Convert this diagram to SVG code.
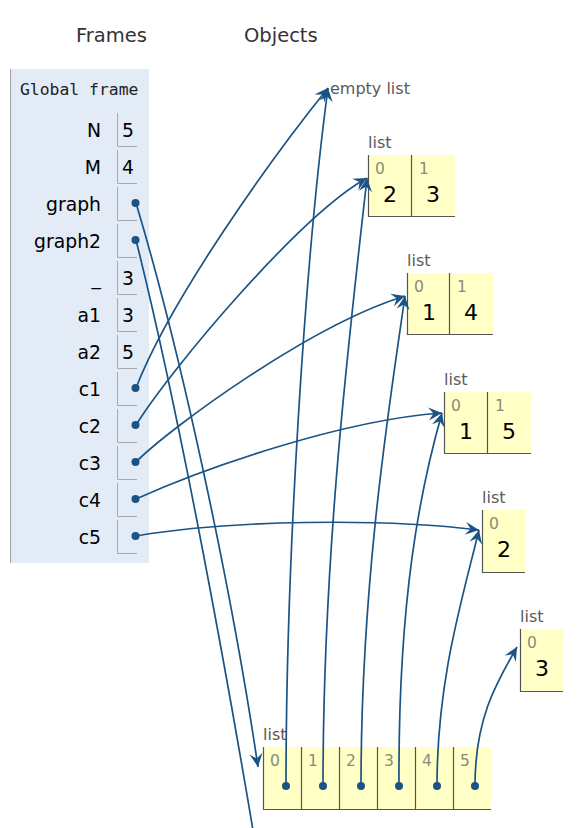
<svg xmlns="http://www.w3.org/2000/svg" width="585" height="828" viewBox="0 0 585 828">
<defs>
<style>
.hdr{font-family:"DejaVu Sans","Liberation Sans",sans-serif;font-size:19.5px;fill:#333}
.gf{font-family:"DejaVu Sans Mono","Liberation Mono",monospace;font-size:16.4px;fill:#222}
.lbl{font-family:"DejaVu Sans","Liberation Sans",sans-serif;font-size:18.8px;fill:#000;text-anchor:end}
.val{font-family:"DejaVu Sans","Liberation Sans",sans-serif;font-size:18.8px;fill:#000;text-anchor:middle}
.cb{stroke:#a8a8a8;stroke-width:1;fill:none}
.typ{font-family:"DejaVu Sans","Liberation Sans",sans-serif;font-size:16px;fill:#5a5a5a}
.idx{font-family:"DejaVu Sans","Liberation Sans",sans-serif;font-size:15.5px;fill:#8a8a80}
.hv{font-family:"DejaVu Sans","Liberation Sans",sans-serif;font-size:22px;fill:#000;text-anchor:middle}
.cell{fill:#ffffc6}
.hb{stroke:#555;stroke-width:1.2;fill:none}
.dot{fill:#1b5384}
.con path{fill:none;stroke:#1b5384;stroke-width:1.7;marker-end:url(#ah)}
</style>
<marker id="ah" viewBox="-15 -8 16 16" refX="0" refY="0" markerWidth="16" markerHeight="16" markerUnits="userSpaceOnUse" orient="auto">
<path d="M0,0 L-13.5,-6.5 L-8.5,0 L-13.5,6.5 Z" fill="#1b5384"/>
</marker>
</defs>
<rect width="585" height="828" fill="#fff"/>
<text class="hdr" x="76" y="42">Frames</text>
<text class="hdr" x="244" y="42">Objects</text>

<g id="global-frame">
<rect x="10" y="69" width="139" height="494" fill="#e2ebf6"/>
<line x1="10.5" y1="69" x2="10.5" y2="563" stroke="#a0a0a0"/>
<text class="gf" x="20" y="95">Global frame</text>
</g>
<g id="var-N"><text class="lbl" x="101" y="137">N</text><path class="cb" d="M117.5,113V146.5H137"/><text class="val" x="128" y="137">5</text></g>
<g id="var-M"><text class="lbl" x="101" y="174">M</text><path class="cb" d="M117.5,150V183.5H137"/><text class="val" x="128" y="174">4</text></g>
<g id="var-graph"><text class="lbl" x="101" y="211">graph</text><path class="cb" d="M117.5,187V220.5H137"/><circle class="dot" cx="135.5" cy="203" r="4"/></g>
<g id="var-graph2"><text class="lbl" x="101" y="248">graph2</text><path class="cb" d="M117.5,224V257.5H137"/><circle class="dot" cx="135.5" cy="240" r="4"/></g>
<g id="var-underscore"><text class="lbl" x="101" y="285">_</text><path class="cb" d="M117.5,261V294.5H137"/><text class="val" x="128" y="285">3</text></g>
<g id="var-a1"><text class="lbl" x="101" y="322">a1</text><path class="cb" d="M117.5,298V331.5H137"/><text class="val" x="128" y="322">3</text></g>
<g id="var-a2"><text class="lbl" x="101" y="359">a2</text><path class="cb" d="M117.5,335V368.5H137"/><text class="val" x="128" y="359">5</text></g>
<g id="var-c1"><text class="lbl" x="101" y="396">c1</text><path class="cb" d="M117.5,372V405.5H137"/><circle class="dot" cx="135.5" cy="388" r="4"/></g>
<g id="var-c2"><text class="lbl" x="101" y="433">c2</text><path class="cb" d="M117.5,409V442.5H137"/><circle class="dot" cx="135.5" cy="425" r="4"/></g>
<g id="var-c3"><text class="lbl" x="101" y="470">c3</text><path class="cb" d="M117.5,446V479.5H137"/><circle class="dot" cx="135.5" cy="462" r="4"/></g>
<g id="var-c4"><text class="lbl" x="101" y="507">c4</text><path class="cb" d="M117.5,483V516.5H137"/><circle class="dot" cx="135.5" cy="499" r="4"/></g>
<g id="var-c5"><text class="lbl" x="101" y="544">c5</text><path class="cb" d="M117.5,520V553.5H137"/><circle class="dot" cx="135.5" cy="536" r="4"/></g>

<g id="obj-empty"><text class="typ" x="330" y="94">empty list</text></g>

<g id="obj-list23">
<text class="typ" x="368" y="148">list</text>
<rect class="cell" x="368" y="155" width="87" height="62"/>
<path class="hb" d="M368.5,155V216.5H455M411.5,155V216.5"/>
<text class="idx" x="375" y="174">0</text><text class="idx" x="419" y="174">1</text>
<text class="hv" x="390" y="202">2</text><text class="hv" x="433" y="202">3</text>
</g>
<g id="obj-list14">
<text class="typ" x="407" y="266">list</text>
<rect class="cell" x="407" y="273" width="86" height="62"/>
<path class="hb" d="M407.5,273V334.5H493M449.5,273V334.5"/>
<text class="idx" x="414" y="292">0</text><text class="idx" x="457" y="292">1</text>
<text class="hv" x="429" y="320">1</text><text class="hv" x="471" y="320">4</text>
</g>
<g id="obj-list15">
<text class="typ" x="444" y="385">list</text>
<rect class="cell" x="444" y="392" width="87" height="62"/>
<path class="hb" d="M444.5,392V453.5H531M487.5,392V453.5"/>
<text class="idx" x="451" y="411">0</text><text class="idx" x="495" y="411">1</text>
<text class="hv" x="466" y="439">1</text><text class="hv" x="509" y="439">5</text>
</g>
<g id="obj-list2">
<text class="typ" x="482" y="503">list</text>
<rect class="cell" x="482" y="510" width="43" height="63"/>
<path class="hb" d="M482.5,510V572.5H525"/>
<text class="idx" x="489" y="529">0</text>
<text class="hv" x="504" y="557">2</text>
</g>
<g id="obj-list3">
<text class="typ" x="520" y="622">list</text>
<rect class="cell" x="520" y="629" width="43" height="63"/>
<path class="hb" d="M520.5,629V691.5H563"/>
<text class="idx" x="527" y="648">0</text>
<text class="hv" x="542" y="676">3</text>
</g>
<g id="obj-biglist">
<text class="typ" x="263" y="740" style="fill:#6e5048">list</text>
<rect class="cell" x="263" y="747" width="228" height="63"/>
<path class="hb" d="M263.5,747V809.5H491M301.5,747V809.5M339.5,747V809.5M377.5,747V809.5M415.5,747V809.5M453.5,747V809.5"/>
<text class="idx" x="270" y="766">0</text><text class="idx" x="308" y="766">1</text><text class="idx" x="346" y="766">2</text>
<text class="idx" x="384" y="766">3</text><text class="idx" x="422" y="766">4</text><text class="idx" x="460" y="766">5</text>
<circle class="dot" cx="286" cy="786" r="4"/><circle class="dot" cx="323" cy="786" r="4"/><circle class="dot" cx="361" cy="786" r="4"/>
<circle class="dot" cx="399" cy="786" r="4"/><circle class="dot" cx="437" cy="786" r="4"/><circle class="dot" cx="475" cy="786" r="4"/>
</g>

<g id="connectors" class="con">
<path d="M136,203 C181,353 231,585 258,767"/>
<path d="M136,240 C181,420 228,680 258,860"/>
<path d="M136,388 C170,300 270,160 328,88"/>
<path d="M136,425 C170,370 300,215 367,178"/>
<path d="M136,462 C170,428 310,325 405,296"/>
<path d="M136,499 C200,470 340,420 442,413"/>
<path d="M136,536 C230,520 380,518 479,530"/>
<path d="M286,786 C286,560 305,260 328,88"/>
<path d="M323,786 C323,550 350,330 367,178"/>
<path d="M361,786 C361,580 390,400 405,296"/>
<path d="M399,786 C398,600 420,490 442,413"/>
<path d="M437,786 C437,680 462,600 479,530"/>
<path d="M475,786 C475,720 495,685 517,647"/>
</g>
</svg>
